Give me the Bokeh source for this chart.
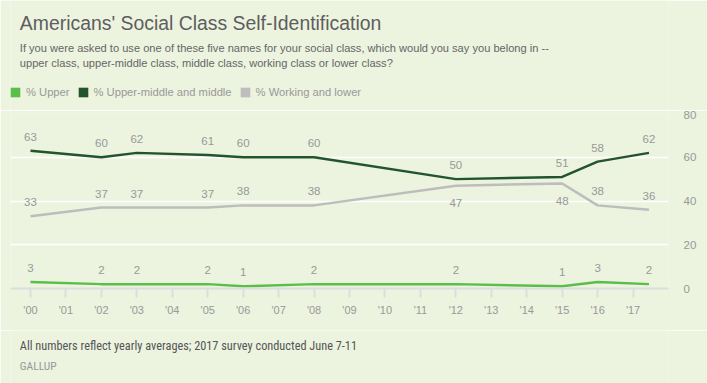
from bokeh.plotting import figure
from bokeh.layouts import column
from bokeh.models import Range1d, FixedTicker, Label, Legend, LegendItem, ColumnDataSource
from bokeh.embed import file_html
from bokeh.resources import INLINE
from bokeh.core.properties import value

# ---- data ----
years = [2000, 2002, 2003, 2005, 2006, 2008, 2012, 2015, 2016, 2017.45]
upper = [3, 2, 2, 2, 1, 2, 2, 1, 3, 2]
middle = [63, 60, 62, 61, 60, 60, 50, 51, 58, 62]
working = [33, 37, 37, 37, 38, 38, 47, 48, 38, 36]
working_label_below = [False, False, False, False, False, False, True, True, False, False]
series_names = ["% Upper", "% Upper-middle and middle", "% Working and lower"]
tick_years = [2000, 2001, 2002, 2003, 2004, 2005, 2006, 2007, 2008, 2009,
              2010, 2011, 2012, 2013, 2014, 2015, 2016, 2017]
tick_labels = ["'00", "'01", "'02", "'03", "'04", "'05", "'06", "'07", "'08", "'09",
               "'10", "'11", "'12", "'13", "'14", "'15", "'16", "'17"]
y_ticks = [0, 20, 40, 60, 80]

title = "Americans' Social Class Self-Identification"
subtitle1 = "If you were asked to use one of these five names for your social class, which would you say you belong in --"
subtitle2 = "upper class, upper-middle class, middle class, working class or lower class?"
footnote = "All numbers reflect yearly averages; 2017 survey conducted June 7-11"
source_note = "GALLUP"

# ---- style ----
BG = "#ECF3DF"
C_UP = "#5BBE4A"
C_MID = "#22552F"
C_WORK = "#BDBDBD"
LBL = "#999999"
FONT = "Liberation Sans"
NARROW = "'Roboto Condensed', 'Liberation Sans Narrow', 'DejaVu Sans Condensed', 'Liberation Sans'"
W = 707
NAN = float("nan")


def text_panel(height):
    f = figure(width=W, height=height, output_backend="svg", toolbar_location=None,
               x_range=Range1d(0, W), y_range=Range1d(height, 0),
               x_axis_type=None, y_axis_type=None,
               min_border_left=0, min_border_right=0, min_border_top=0, min_border_bottom=0,
               background_fill_color=BG, border_fill_color=BG, outline_line_color=None)
    f.xgrid.visible = False
    f.ygrid.visible = False
    return f


def add_text(f, txt, x, y, size, color, font=FONT):
    f.add_layout(Label(x=x, y=y, text=txt, text_font=font, text_font_size=size,
                       text_color=color, text_baseline="alphabetic", text_align="left"))


# ---- header: title, question, legend ----
head = text_panel(110)
add_text(head, title, 10, 22.7, "19.4px", "#5E5E5E")
add_text(head, subtitle1, 10, 47.3, "11.1px", "#666666")
add_text(head, subtitle2, 10, 62.3, "11.1px", "#666666")

# legend swatches (proxy renderers with no visible extent)
def swatch(color):
    return head.quad(left=[NAN], right=[NAN], top=[NAN], bottom=[NAN],
                     fill_color=color, line_color=None)

r_up, r_mid, r_work = swatch(C_UP), swatch(C_MID), swatch(C_WORK)
legend = Legend(items=[LegendItem(label=series_names[0], renderers=[r_up]),
                       LegendItem(label=series_names[1], renderers=[r_mid]),
                       LegendItem(label=series_names[2], renderers=[r_work])],
                location=(-1, 12.5), orientation="horizontal",
                glyph_width=12, glyph_height=12, label_height=12, label_width=10,
                label_standoff=5, spacing=7,
                padding=0, margin=0, border_line_color=None, background_fill_alpha=0,
                label_text_font=FONT, label_text_font_size="11.2px", label_text_color=LBL)
head.add_layout(legend)

# ---- main chart ----
p = figure(width=W, height=220, output_backend="svg", toolbar_location=None,
           x_range=Range1d(1999.436, 2018.0), y_range=Range1d(0, 80),
           y_axis_location="right",
           min_border_left=10, min_border_right=39, min_border_top=3, min_border_bottom=42,
           background_fill_color=BG, border_fill_color=BG, outline_line_color=None)

p.xgrid.visible = False
p.ygrid.grid_line_color = "white"
p.ygrid.grid_line_width = 1.5

xa = p.xaxis[0]
xa.ticker = FixedTicker(ticks=tick_years)
xa.major_label_overrides = dict(zip(tick_years, tick_labels))
xa.axis_line_color = "#DDDDDD"
xa.axis_line_width = 2
xa.major_tick_line_color = "#DDDDDD"
xa.major_tick_line_width = 2
xa.major_tick_in = 0
xa.major_tick_out = 9
xa.minor_tick_line_color = None
xa.major_label_standoff = 6
xa.major_label_text_font = FONT
xa.major_label_text_font_size = "11px"
xa.major_label_text_color = LBL

ya = p.yaxis[0]
ya.ticker = FixedTicker(ticks=y_ticks)
ya.axis_line_color = None
ya.major_tick_line_color = None
ya.minor_tick_line_color = None
ya.major_label_standoff = 9
ya.major_label_text_font = FONT
ya.major_label_text_font_size = "11.5px"
ya.major_label_text_color = LBL

p.line(years, working, line_color=C_WORK, line_width=2.5)
p.line(years, middle, line_color=C_MID, line_width=2.5)
p.line(years, upper, line_color=C_UP, line_width=2.5)

ABOVE, BELOW = -14, 17


def add_labels(vals, below=None):
    offs = [BELOW if (below and below[i]) else ABOVE for i in range(len(vals))]
    src = ColumnDataSource(dict(x=years, y=vals, t=[str(v) for v in vals], off=offs))
    p.text(x="x", y="y", text="t", y_offset="off", source=src, text_align="center",
           text_baseline="middle", text_font=value(FONT), text_font_size="11.5px",
           text_color=LBL)


add_labels(middle)
add_labels(working, working_label_below)
add_labels(upper)

# ---- footer ----
foot = text_panel(53)
add_text(foot, footnote, 10, 15.5, "12.3px", "#555555", font=NARROW)
add_text(foot, source_note, 10, 35, "11.5px", "#999999", font=NARROW)

layout = column(head, p, foot, spacing=0)
open("out.html", "w").write(file_html(layout, INLINE))
